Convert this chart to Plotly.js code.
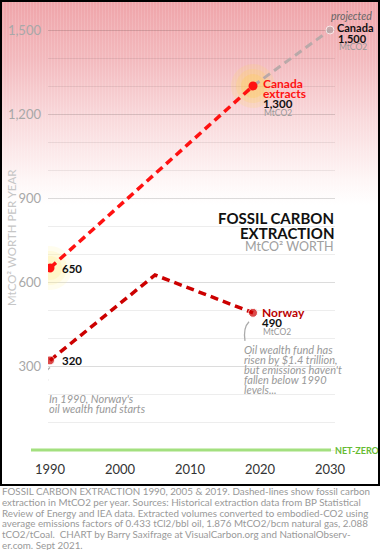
<!DOCTYPE html>
<html>
<head>
<meta charset="utf-8">
<script src="https://cdn.plot.ly/plotly-3.0.1.min.js"></script>
<style>
  html, body { margin:0; padding:0; background:#fff; }
  #wrap { position:relative; width:380px; height:550px; }
  #bg { position:absolute; left:0; top:0; width:380px; height:486px;
        background:
          repeating-linear-gradient(to right, rgba(255,255,255,0.12) 0px, rgba(255,255,255,0.12) 1px, rgba(0,0,0,0) 1px, rgba(0,0,0,0) 3px),
          linear-gradient(to bottom, rgb(239,164,169) 0px, rgb(243,186,190) 60px, rgb(249,218,220) 120px, rgb(254,246,246) 180px, #ffffff 205px); }
  #frame { position:absolute; left:0; top:0; width:380px; height:486px; box-sizing:border-box;
           border:2px solid #000; pointer-events:none; }
  #chart { position:absolute; left:0; top:0; width:380px; height:550px; }
</style>
</head>
<body>
<div id="wrap">
  <div id="bg"></div>
  <div id="chart"></div>
  <div id="frame"></div>
</div>
<script>
// ---- data ----
const canadaYears = [1990, 2019];
const canadaValues = [650, 1300];
const projYears = [2019, 2030];
const projValues = [1300, 1500];
const norwayYears = [1990, 2005, 2019];
const norwayValues = [320, 625, 490];
const xTicks = [1990, 2000, 2010, 2020, 2030];
const yTicks = [300, 600, 900, 1200, 1500];

const captionLines = [
  'FOSSIL CARBON EXTRACTION 1990, 2005 & 2019. Dashed-lines show fossil carbon',
  'extraction in MtCO2 per year. Sources: Historical extraction data from BP Statistical',
  'Review of Energy and IEA data. Extracted volumes converted to embodied-CO2 using',
  'average emissions factors of 0.433 tCl2/bbl oil, 1.876 MtCO2/bcm natural gas, 2.088',
  'tCO2/tCoal.  CHART by Barry Saxifrage at VisualCarbon.org and NationalObserv-',
  'er.com. Sept 2021.'
];
const norwayStartNote = ["In 1990, Norway's", 'oil wealth fund starts'];
const norwayNowNote = ['Oil wealth fund has', 'risen by $1.4 trillion,', "but emissions haven't", 'fallen below 1990', 'levels...'];
const titleLines = ['FOSSIL CARBON', 'EXTRACTION'];

// ---- layout geometry ----
const W = 380, H = 550;
const M = {l: 48, r: 45, t: 2, b: 90};
const pw = W - M.l - M.r, ph = H - M.t - M.b;
const px = x => (x - M.l) / pw;
const py = y => (H - M.b - y) / ph;

const FONT = 'Lato, "Open Sans", sans-serif';
const GRAY = '#a8a8a8';

const glowT = (size, color) => ({ x: canadaYears, y: canadaValues, mode: 'markers', type: 'scatter',
    marker: { size: size, color: color, line: {width: 0} } });

const traces = [
  glowT(44, ['rgba(255,240,150,0.16)', 'rgba(255,215,90,0.16)']),
  glowT(34, ['rgba(255,240,150,0.20)', 'rgba(255,215,90,0.22)']),
  glowT(24, ['rgba(255,235,140,0.25)', 'rgba(255,205,80,0.28)']),
  { x: projYears, y: projValues, mode: 'lines+markers', type: 'scatter',
    line: { color: '#b9a9a9', width: 3, dash: '8px,5px' },
    marker: { size: [0, 8], color: '#b9a9a9' } },
  { x: norwayYears, y: norwayValues, mode: 'lines+markers', type: 'scatter',
    line: { color: '#cc0000', width: 3.5, dash: '8px,5px' },
    marker: { size: [9, 0, 9], color: '#cc0000' } },
  { x: canadaYears, y: canadaValues, mode: 'lines+markers', type: 'scatter',
    line: { color: '#ff1111', width: 3.5, dash: '8px,5px' },
    marker: { size: 9, color: '#ff1111' } }
];

function lab(x, y, text, opts) {
  return Object.assign({ x, y, xref: 'x', yref: 'y', text, showarrow: false,
    xanchor: 'left', yanchor: 'middle', font: { family: FONT, size: 11.5, color: '#111' } }, opts);
}
function lines(arr, xPix, y0Pix, step, font, xanchor) {
  return arr.map((t, i) => ({ x: px(xPix), y: py(y0Pix + i * step), xref: 'paper', yref: 'paper',
    xanchor: xanchor || 'left', yanchor: 'middle', showarrow: false, text: t, font }));
}

const RED = { family: FONT, size: 12, color: '#ff1111' };
const SMALL = { family: FONT, size: 8.5, color: '#999' };
const BLK11 = { family: FONT, size: 11, color: '#111' };

const annotations = [
  // Canada 1990
  lab(canadaYears[0], canadaValues[0], '<b>650</b>', { xshift: 10 }),
  // Canada 2019
  lab(canadaYears[1], canadaValues[1], '<b>Canada</b>', { xshift: 8, yshift: 3, font: RED }),
  lab(canadaYears[1], canadaValues[1], '<b>extracts</b>', { xshift: 8, yshift: -7, font: RED }),
  lab(canadaYears[1], canadaValues[1], '<b>1,300</b>', { xshift: 8, yshift: -17 }),
  lab(canadaYears[1], canadaValues[1], 'MtCO2', { xshift: 9, yshift: -27, font: SMALL }),
  // Canada projection
  lab(projYears[1], projValues[1], '<i>projected</i>', { xshift: -1, yshift: 14, font: { family: FONT, size: 10.5, color: '#666' } }),
  lab(projYears[1], projValues[1], '<b>Canada</b>', { xshift: 5, yshift: 3, font: BLK11 }),
  lab(projYears[1], projValues[1], '<b>1,500</b>', { xshift: 6, yshift: -8, font: BLK11 }),
  lab(projYears[1], projValues[1], 'MtCO2', { xshift: 7, yshift: -17, font: SMALL }),
  // Norway
  lab(norwayYears[0], norwayValues[0], '<b>320</b>', { xshift: 10 }),
  lab(norwayYears[2], norwayValues[2], '<b>Norway</b>', { xshift: 7, yshift: 0, font: { family: FONT, size: 12, color: '#bb0000' } }),
  lab(norwayYears[2], norwayValues[2], '<b>490</b>', { xshift: 7, yshift: -10 }),
  lab(norwayYears[2], norwayValues[2], 'MtCO2', { xshift: 8, yshift: -19, font: SMALL }),
  // arrowheads
  { x: norwayYears[0], y: norwayValues[0], xref: 'x', yref: 'y', text: '', showarrow: true,
    ax: 0, ay: 4, arrowhead: 2, arrowsize: 1, arrowwidth: 1.3, arrowcolor: '#aaa', standoff: 6 },
  { x: norwayYears[2], y: norwayValues[2], xref: 'x', yref: 'y', text: '', showarrow: true,
    ax: -1, ay: 4, arrowhead: 2, arrowsize: 1, arrowwidth: 1.3, arrowcolor: '#aaa', standoff: 8 },
  ...lines(norwayStartNote.map(t => '<i>' + t + '</i>'), 47, 398, 10, { family: FONT, size: 11, color: '#999' }),
  ...lines(norwayNowNote.map(t => '<i>' + t + '</i>'), 242, 349, 10.2, { family: FONT, size: 11, color: '#999' }),
  // title
  ...lines(titleLines.map(t => '<b>' + t + '</b>'), 336, 218, 15, { family: FONT, size: 15, color: '#111' }, 'right'),
  ...lines(['MtCO² WORTH'], 336, 246, 0, { family: FONT, size: 12.5, color: '#a0a0a0' }, 'right'),
  // y title
  { x: px(11), y: py(238), xref: 'paper', yref: 'paper', xanchor: 'center', yanchor: 'middle', showarrow: false,
    textangle: -90, text: 'MtCO² WORTH PER YEAR', font: { family: FONT, size: 11.5, color: '#c6c6c6' } },
  // net-zero
  { x: px(333), y: 0, xref: 'paper', yref: 'y', xanchor: 'left', yanchor: 'middle', showarrow: false,
    text: '<b>NET-ZERO</b>', font: { family: FONT, size: 9, color: '#66bb33' } },
  // caption
  ...lines(captionLines, 0, 491, 10.8, { family: FONT, size: 9.8, color: '#999' })
];

const layout = {
  width: W, height: H,
  margin: M,
  paper_bgcolor: 'rgba(0,0,0,0)', plot_bgcolor: 'rgba(0,0,0,0)',
  showlegend: false, hovermode: false,
  font: { family: FONT },
  xaxis: { range: [1990 - 2/7, 1990 - 2/7 + pw/7], tickvals: xTicks, showgrid: false, zeroline: false,
           showline: false, ticks: '', tickfont: { family: FONT, size: 13, color: '#333' }, ticklabelstandoff: 0 },
  yaxis: { range: [-10/0.28, (ph - 10)/0.28], tickvals: yTicks, tickformat: ',d',
           showgrid: true, gridcolor: 'rgba(0,0,0,0.07)', zeroline: false, showline: false, ticks: '',
           minor: { dtick: 100, showgrid: true, gridcolor: 'rgba(0,0,0,0.07)' },
           tickfont: { family: FONT, size: 13, color: GRAY }, ticklabelstandoff: 6 },
  shapes: [
    { type: 'line', xref: 'paper', yref: 'y', x0: px(31), x1: px(331), y0: 0, y1: 0,
      line: { color: '#a3e07f', width: 3 } },
    { type: 'path', xref: 'x', yref: 'y', xsizemode: 'pixel', ysizemode: 'pixel',
      xanchor: norwayYears[0], yanchor: norwayValues[0],
      path: 'M -2 -20 Q -7 -13 0 -7', line: { color: '#aaa', width: 1.3 } },
    { type: 'path', xref: 'x', yref: 'y', xsizemode: 'pixel', ysizemode: 'pixel',
      xanchor: norwayYears[2], yanchor: norwayValues[2],
      path: 'M -8 -28 Q -10 -15 -4 -9', line: { color: '#aaa', width: 1.3 } }
  ],
  annotations
};

Plotly.newPlot('chart', traces, layout, { staticPlot: true, displayModeBar: false });
</script>
</body>
</html>
